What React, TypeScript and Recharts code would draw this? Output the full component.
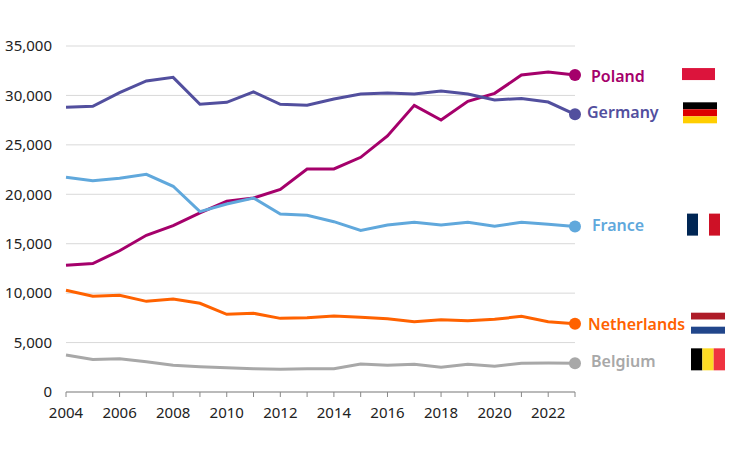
import React from "react";
import { CartesianGrid, LabelList, Line, LineChart, XAxis, YAxis } from "recharts";

const years = [
  2004, 2005, 2006, 2007, 2008, 2009, 2010, 2011, 2012, 2013,
  2014, 2015, 2016, 2017, 2018, 2019, 2020, 2021, 2022, 2023,
];

const poland = [
  12810, 13000, 14290, 15850, 16830, 18110, 19290, 19620, 20500, 22560,
  22560, 23740, 25900, 29000, 27510, 29400, 30210, 32060, 32370, 32060,
];
const germany = [
  28800, 28900, 30280, 31460, 31830, 29100, 29300, 30350, 29100, 29000,
  29640, 30140, 30250, 30140, 30450, 30140, 29540, 29700, 29330, 28090,
];
const france = [
  21720, 21380, 21620, 22020, 20810, 18240, 19020, 19620, 18000, 17870,
  17230, 16350, 16890, 17160, 16890, 17160, 16760, 17160, 16960, 16730,
];
const netherlands = [
  10290, 9680, 9780, 9170, 9410, 8970, 7860, 7960, 7450, 7520,
  7690, 7550, 7420, 7110, 7310, 7220, 7350, 7650, 7110, 6910,
];
const belgium = [
  3740, 3300, 3370, 3070, 2700, 2560, 2460, 2360, 2290, 2360,
  2360, 2830, 2700, 2800, 2500, 2800, 2600, 2900, 2930, 2900,
];

const yTicks = [0, 5000, 10000, 15000, 20000, 25000, 30000, 35000];

const data = years.map((year, i) => ({
  year,
  Poland: poland[i],
  Germany: germany[i],
  France: france[i],
  Netherlands: netherlands[i],
  Belgium: belgium[i],
}));

type FlagStripe = { color: string };
type SeriesDef = {
  key: string;
  color: string;
  labelDx: number;
  labelDy: number;
  flagDx: number;
  flagDy: number;
  flagW: number;
  flagH: number;
  vertical: boolean;
  stripes: FlagStripe[];
};

const series: SeriesDef[] = [
  {
    key: "Poland", color: "#a5006b", labelDx: 16, labelDy: 1,
    flagDx: 107, flagDy: -7, flagW: 33, flagH: 12, vertical: false,
    stripes: [{ color: "#dc143c" }],
  },
  {
    key: "Germany", color: "#524f9e", labelDx: 12, labelDy: -2,
    flagDx: 108, flagDy: -12, flagW: 34, flagH: 21, vertical: false,
    stripes: [{ color: "#000000" }, { color: "#dd0000" }, { color: "#ffce00" }],
  },
  {
    key: "France", color: "#60a8dc", labelDx: 17, labelDy: -1,
    flagDx: 112, flagDy: -13, flagW: 33, flagH: 22, vertical: true,
    stripes: [{ color: "#002654" }, { color: "#ffffff" }, { color: "#ce1126" }],
  },
  {
    key: "Netherlands", color: "#ff6200", labelDx: 13, labelDy: 1,
    flagDx: 116, flagDy: -11, flagW: 34, flagH: 21, vertical: false,
    stripes: [{ color: "#ae1c28" }, { color: "#ffffff" }, { color: "#21468b" }],
  },
  {
    key: "Belgium", color: "#a8a8a8", labelDx: 16, labelDy: -2,
    flagDx: 116, flagDy: -15, flagW: 34, flagH: 22, vertical: true,
    stripes: [{ color: "#000000" }, { color: "#fdda24" }, { color: "#ef3340" }],
  },
];

const fontFamily = "'Noto Sans', sans-serif";

function makeLabel(s: SeriesDef) {
  return (props: any) => {
    const { x, y, index } = props;
    if (index !== years.length - 1) return null;
    const fx = x + s.flagDx;
    const fy = y + s.flagDy;
    const n = s.stripes.length;
    return (
      <g>
        <text
          x={x + s.labelDx}
          y={y + s.labelDy}
          dy="0.35em"
          fill={s.color}
          fontSize={16}
          fontWeight={600}
          fontFamily={fontFamily}
        >
          {s.key}
        </text>
        {s.stripes.map((st, i) =>
          s.vertical ? (
            <rect key={i} x={fx + (i * s.flagW) / n} y={fy} width={s.flagW / n} height={s.flagH} fill={st.color} />
          ) : (
            <rect key={i} x={fx} y={fy + (i * s.flagH) / n} width={s.flagW} height={s.flagH / n} fill={st.color} />
          )
        )}
      </g>
    );
  };
}

function makeDot(color: string) {
  return (props: any) => {
    const { cx, cy, index } = props;
    if (index !== years.length - 1) return <g key={index} />;
    return <circle key={index} cx={cx} cy={cy} r={6} fill={color} stroke="none" />;
  };
}

export default function App() {
  return (
    <div style={{ position: "absolute", left: 0, top: 0, width: 744, height: 473, background: "#fff" }}>
      <LineChart width={744} height={473} data={data} margin={{ top: 46, right: 169, bottom: 51, left: 6 }}>
        <CartesianGrid vertical={false} stroke="#d9d9d9" />
        <XAxis
          dataKey="year"
          interval={0}
          tickFormatter={(v: number) => (v % 2 === 0 ? String(v) : "")}
          tick={{ fill: "#222", fontSize: 15, fontFamily }}
          tickLine={{ stroke: "#888" }}
          axisLine={{ stroke: "#888" }}
          tickSize={5}
          tickMargin={10}
          height={30}
        />
        <YAxis
          domain={[0, 35000]}
          ticks={yTicks}
          tickFormatter={(v: number) => v.toLocaleString("en-US")}
          tick={{ fill: "#222", fontSize: 15, fontFamily }}
          axisLine={false}
          tickLine={false}
          tickMargin={8}
          width={60}
        />
        {series.map((s) => (
          <Line
            key={s.key}
            dataKey={s.key}
            stroke={s.color}
            strokeWidth={3}
            type="linear"
            dot={makeDot(s.color)}
            activeDot={false}
            isAnimationActive={false}
          >
            <LabelList dataKey={s.key} content={makeLabel(s)} />
          </Line>
        ))}
      </LineChart>
    </div>
  );
}
